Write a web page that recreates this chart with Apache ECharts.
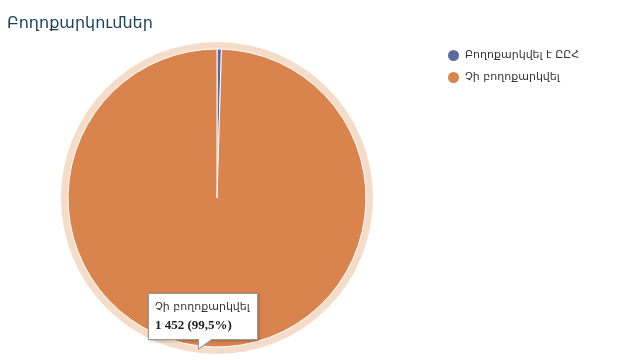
<!DOCTYPE html>
<html><head><meta charset="utf-8">
<script src="https://cdn.jsdelivr.net/npm/echarts@6/dist/echarts.min.js"></script>
<style>html,body{margin:0;padding:0;background:#fff}#c{width:626px;height:360px}</style>
</head><body><div id="c"></div>
<script>
const titleText = "Բողոքարկումներ";
const categories = ["Բողոքարկվել է ԸԸՀ", "Չի բողոքարկվել"];
const values = [7, 1452];
const percents = ["0,5%", "99,5%"];
const colors = ["#5a6a9c", "#d9844c"];

const chart = echarts.init(document.getElementById('c'));
const data = categories.map((n, i) => ({ name: n, value: values[i], itemStyle: { color: colors[i] } }));
chart.setOption({
  animation: false,
  title: { text: titleText, left: 2, top: 11, textStyle: { fontFamily: 'DejaVu Sans', fontSize: 16, fontWeight: 'normal', color: '#1c4257' } },
  legend: {
    orient: 'vertical', left: 441, top: 43, itemGap: 7, icon: 'circle', itemWidth: 13, itemHeight: 13,
    data: categories,
    textStyle: { fontFamily: 'DejaVu Sans', fontSize: 11, color: '#333' }
  },
  tooltip: {
    trigger: 'item', triggerOn: 'none', alwaysShowContent: true, padding: 0,
    borderWidth: 0, backgroundColor: 'transparent', extraCssText: 'box-shadow:none;',
    position: [148, 293],
    formatter: p => '<div style="position:relative;width:110px;height:47px;background:#fff;border:1px solid #999;box-shadow:1px 1px 3px rgba(0,0,0,0.25);box-sizing:border-box;padding:4px 6px;line-height:18px">' +
      '<div style="font-family:DejaVu Sans;font-size:11px;color:#333">' + p.name + '</div>' +
      '<div style="font-family:Liberation Serif;font-size:13px;font-weight:bold;color:#222">' + values[p.dataIndex].toLocaleString('fr-FR').replace(/\u202f|\u00a0/g, ' ') + ' (' + percents[p.dataIndex] + ')</div>' +
      '<div style="position:absolute;left:49px;bottom:-11px;width:0;height:0;border-left:0 solid transparent;border-right:16px solid transparent;border-top:11px solid #999"></div>' +
      '<div style="position:absolute;left:50px;bottom:-9px;width:0;height:0;border-left:0 solid transparent;border-right:14px solid transparent;border-top:10px solid #fff"></div>' +
      '</div>'
  },
  series: [
    {
      type: 'pie', silent: true, center: [217, 198], radius: [0, 156], z: 1,
      label: { show: false }, labelLine: { show: false }, tooltip: { show: false },
      data: [{ name: 'halo', value: 1, itemStyle: { color: '#f5dcc9' } }]
    },
    {
      type: 'pie', center: [217, 198], radius: [0, 149], startAngle: 90, clockwise: true, z: 2,
      label: { show: false }, labelLine: { show: false },
      itemStyle: { borderColor: '#fff', borderWidth: 1 },
      data: data
    }
  ]
});
chart.dispatchAction({ type: 'showTip', seriesIndex: 1, dataIndex: 1 });
</script></body></html>
